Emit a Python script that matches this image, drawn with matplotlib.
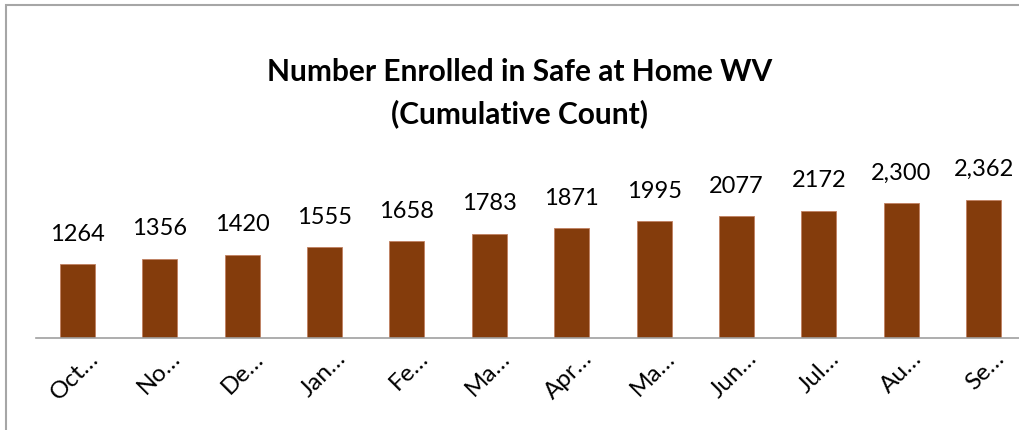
import matplotlib.pyplot as plt
import matplotlib.transforms as mtransforms
from matplotlib.patches import Rectangle

# du lieu: so nguoi dang ky (tong cong don) theo thang
thang = ['Oct…', 'No…', 'De…', 'Jan…', 'Fe…', 'Ma…', 'Apr…', 'Ma…',
         'Jun…', 'Jul…', 'Au…', 'Se…']
so_luong = [1264, 1356, 1420, 1555, 1658, 1783, 1871, 1995, 2077, 2172, 2300, 2362]
nhan = ['1264', '1356', '1420', '1555', '1658', '1783', '1871', '1995',
        '2077', '2172', '2,300', '2,362']

plt.rcParams['font.family'] = ['Lato', 'DejaVu Sans']

fig = plt.figure(figsize=(10.19, 4.30), dpi=100)
ax = fig.add_axes([0.0356, 0.214, 0.970, 0.6465])

x = range(len(so_luong))
ax.bar(x, so_luong, width=0.425, color='#843C0C', edgecolor='#C08060', linewidth=0.6)

for i, v in enumerate(so_luong):
    ax.annotate(nhan[i], (i, v), xytext=(0, 14), textcoords='offset points',
                ha='center', va='bottom', fontsize=17, color='#000000')

ax.set_xlim(-0.5, 11.5)
ax.set_ylim(0, 4750)
ax.set_yticks([])
ax.set_xticks(list(x))
ax.set_xticklabels(thang, rotation=45, ha='right', va='top',
                   rotation_mode='anchor', fontsize=17.5)
ax.tick_params(axis='x', length=0, pad=7)
dich = mtransforms.ScaledTranslation(10 / 100, 0, fig.dpi_scale_trans)
for lb in ax.get_xticklabels():
    lb.set_transform(lb.get_transform() + dich)
for s in ['top', 'right', 'left']:
    ax.spines[s].set_visible(False)
ax.spines['bottom'].set_color('#A0A0A0')
ax.spines['bottom'].set_linewidth(1.2)

fig.text(0.51, 0.783, 'Number Enrolled in Safe at Home WV\n(Cumulative Count)',
         ha='center', va='center', fontsize=21.5, fontweight='bold',
         linespacing=1.55)

# khung vien xam cua bieu do
fig.patches.append(Rectangle((6 / 1019, -0.5), 1.5, 0.988 + 0.5,
                             transform=fig.transFigure, fill=False,
                             edgecolor='#A6A6A6', linewidth=1.5))

plt.savefig('out.png', dpi=100)
